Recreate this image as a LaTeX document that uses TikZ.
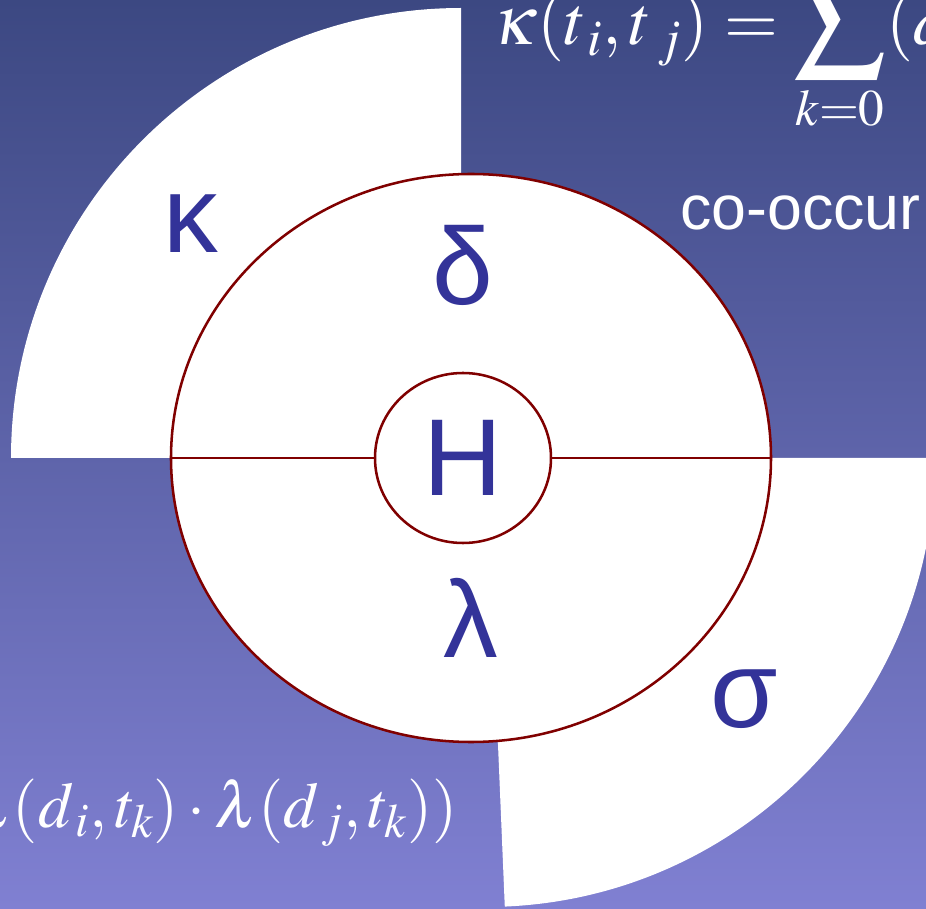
\documentclass[tikz,border=0pt]{standalone}
\usepackage{mathptmx}
\usepackage[no-math]{fontspec}
\setmainfont{Liberation Sans}
\usetikzlibrary{shapes.geometric}

\definecolor{bgtop}{RGB}{60,72,130}
\definecolor{bgmid}{RGB}{104,110,184}
\definecolor{bgbot}{RGB}{128,128,210}
\definecolor{ringred}{RGB}{128,0,0}
\definecolor{letterblue}{RGB}{51,51,153}

\newcommand{\bigsum}{\mathop{\hbox{\fontsize{68}{68}\selectfont
  $\displaystyle\sum$}}\limits}

\begin{document}
\begin{tikzpicture}[
  x=0.75pt, y=-0.75pt,
  ring/.style={draw=ringred, line width=1.9pt, fill=white, ellipse,
               inner sep=0pt},
  spoke/.style={draw=ringred, line width=1.9pt},
  letter/.style={text=letterblue, inner sep=0pt,
                 font=\fontsize{82}{82}\selectfont},
  formula/.style={text=white, inner sep=0pt,
                  font=\fontsize{52}{56}\selectfont},
  caption/.style={text=white, inner sep=0pt,
                  font=\fontsize{47}{50}\selectfont}
]

\useasboundingbox (0,0) rectangle (926,909);
\shade[top color=bgtop, middle color=bgmid, bottom color=bgbot]
  (0,0) rectangle (926,909);

%% ---------- white quadrants ----------
\fill[white] (461,458) -- (11,458)
  arc[start angle=180, end angle=270, radius=450] -- cycle;
\fill[white] (486,458) -- (935,458)
  arc[start angle=0, end angle=87.6, radius=449] -- cycle;

%% ---------- rings ----------
\node[ring, minimum width=450pt, minimum height=426pt] (outer) at (471,458) {};
\node[ring, letter, minimum width=132pt, minimum height=127.5pt]
  (inner) at (463,458) {H};
\draw[spoke] (outer.west) -- (inner.west);
\draw[spoke] (inner.east) -- (outer.east);

%% ---------- letters ----------
\node[letter] (kappa) at (191,224) {κ};
\node[letter] (delta) at (463,265) {δ};
\node[letter] (lambda) at (471,618) {λ};
\node[letter] (sigma) at (744,699) {σ};

%% ---------- texts ----------
\node[caption, anchor=base west] (cooc) at (680,230) {co-occur};
\node[formula, anchor=base west] (kdef) at (493,45)
  {$\kappa(t_{\,i},t_{\;j}) = \bigsum_{k=0}(d$};
\node[formula, font=\fontsize{48.5}{54}\selectfont, anchor=base east]
  (ldef) at (458,827)
  {$\lambda(d_{\,i},t_k)\cdot\lambda(d_{\,j},t_k))$};
\end{tikzpicture}
\end{document}
